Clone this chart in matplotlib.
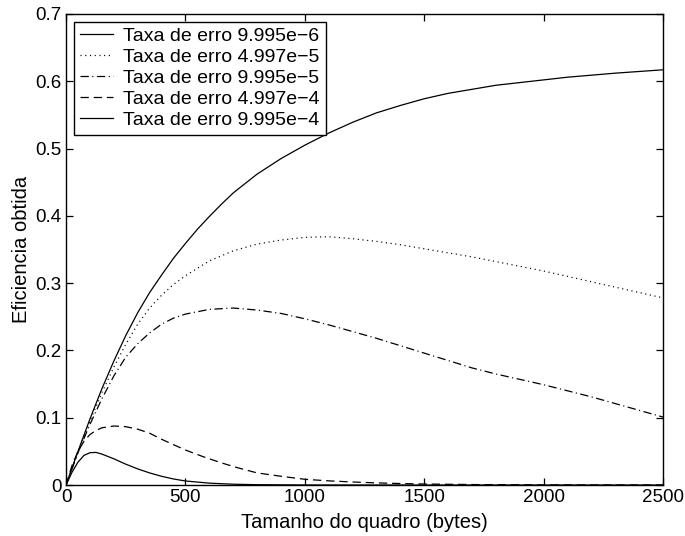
"""Eficiencia obtida vs tamanho do quadro para varias taxas de erro."""

import matplotlib

matplotlib.use("Agg")
import matplotlib.pyplot as plt

plt.rcParams["font.family"] = ["Liberation Sans", "DejaVu Sans"]
plt.rcParams["lines.scale_dashes"] = False

# ───────────────────────── data ─────────────────────────

x_e1 = [0, 50, 100, 150, 200, 250, 300, 350, 400, 450, 500, 550, 600, 650, 700,
        800, 900, 1000, 1100, 1200, 1300, 1400, 1500, 1600, 1700, 1800, 1900,
        2000, 2100, 2200, 2300, 2400, 2500]
y_e1 = [0, 0.050, 0.098, 0.143, 0.184, 0.222, 0.256, 0.286, 0.312, 0.337, 0.359,
        0.380, 0.399, 0.417, 0.434, 0.462, 0.485, 0.505, 0.523, 0.539, 0.553,
        0.564, 0.574, 0.582, 0.588, 0.594, 0.598, 0.602, 0.606, 0.609, 0.612,
        0.6145, 0.617]

x_e2 = [0, 50, 100, 150, 200, 250, 300, 350, 400, 450, 500, 600, 700, 800, 900,
        1000, 1100, 1200, 1300, 1400, 1500, 1600, 1700, 1800, 1900, 2000, 2100,
        2200, 2300, 2400, 2500]
y_e2 = [0, 0.049, 0.095, 0.137, 0.175, 0.209, 0.239, 0.263, 0.282, 0.298, 0.311,
        0.333, 0.348, 0.358, 0.364, 0.368, 0.369, 0.366, 0.362, 0.357, 0.351,
        0.345, 0.339, 0.332, 0.325, 0.318, 0.310, 0.302, 0.294, 0.286, 0.278]

x_e3 = [0, 50, 100, 150, 200, 250, 300, 350, 400, 450, 500, 600, 700, 800, 900,
        1000, 1100, 1200, 1300, 1400, 1500, 1600, 1700, 1800, 1900, 2000, 2100,
        2200, 2300, 2400, 2500]
y_e3 = [0, 0.048, 0.090, 0.128, 0.162, 0.190, 0.210, 0.226, 0.239, 0.248, 0.254,
        0.261, 0.263, 0.260, 0.255, 0.247, 0.238, 0.228, 0.218, 0.207, 0.196,
        0.185, 0.174, 0.165, 0.157, 0.149, 0.140, 0.131, 0.121, 0.111, 0.101]

x_e4 = [0, 25, 50, 75, 100, 125, 150, 200, 250, 300, 350, 400, 450, 500, 575,
        650, 715, 800, 900, 1000, 1100, 1200, 1300, 1400, 1500, 1700, 2000, 2500]
y_e4 = [0, 0.029, 0.050, 0.065, 0.075, 0.081, 0.085, 0.0877, 0.0867, 0.083,
        0.077, 0.068, 0.060, 0.052, 0.042, 0.033, 0.026, 0.018, 0.013, 0.0085,
        0.0062, 0.0045, 0.0032, 0.0022, 0.0015, 0.0007, 0.0002, 0.0]

x_e5 = [0, 25, 50, 75, 100, 125, 150, 200, 250, 300, 350, 400, 450, 500, 600,
        700, 800, 1000, 1500, 2500]
y_e5 = [0, 0.019, 0.034, 0.044, 0.048, 0.0485, 0.046, 0.039, 0.031, 0.024,
        0.018, 0.013, 0.009, 0.006, 0.0028, 0.0012, 0.0005, 0.0001, 0.0, 0.0]

labels = [
    "Taxa de erro 9.995e\u22126",
    "Taxa de erro 4.997e\u22125",
    "Taxa de erro 9.995e\u22125",
    "Taxa de erro 4.997e\u22124",
    "Taxa de erro 9.995e\u22124",
]

x_ticks = [0, 500, 1000, 1500, 2000, 2500]
y_ticks = [0, 0.1, 0.2, 0.3, 0.4, 0.5, 0.6, 0.7]
y_ticklabels = ["0", "0.1", "0.2", "0.3", "0.4", "0.5", "0.6", "0.7"]

# ───────────────────────── plot ─────────────────────────

fig = plt.figure(figsize=(6.85, 5.36), dpi=100)
ax = fig.add_axes([0.0964, 0.0951, 0.8716, 0.8789])

lw = 0.9
ax.plot(x_e1, y_e1, color="black", lw=lw, label=labels[0])
ax.plot(x_e2, y_e2, color="black", lw=lw, dashes=(0.8, 2.6), label=labels[1])
ax.plot(x_e3, y_e3, color="black", lw=lw, dashes=(6, 2.5, 0.8, 2.5), label=labels[2])
ax.plot(x_e4, y_e4, color="black", lw=lw, dashes=(6, 3.5), label=labels[3])
ax.plot(x_e5, y_e5, color="black", lw=lw, label=labels[4])

ax.set_xlim(0, 2500)
ax.set_ylim(0, 0.7)
ax.set_xticks(x_ticks)
ax.set_yticks(y_ticks)
ax.set_yticklabels(y_ticklabels)
ax.tick_params(direction="in", top=True, right=True, length=5, width=0.9,
               labelsize=13.5, pad=3)
for s in ax.spines.values():
    s.set_linewidth(1.0)

ax.set_xlabel("Tamanho do quadro (bytes)", fontsize=14.5, labelpad=5)
ax.set_ylabel("Eficiencia obtida", fontsize=14.5, labelpad=3)

leg = ax.legend(
    loc="upper left",
    fontsize=14,
    frameon=True,
    fancybox=False,
    edgecolor="black",
    framealpha=1,
    handlelength=1.7,
    handletextpad=0.55,
    labelspacing=0.17,
    borderaxespad=0.4,
    borderpad=0.3,
)
leg.get_frame().set_linewidth(1.0)

fig.savefig("out.png", dpi=100)
